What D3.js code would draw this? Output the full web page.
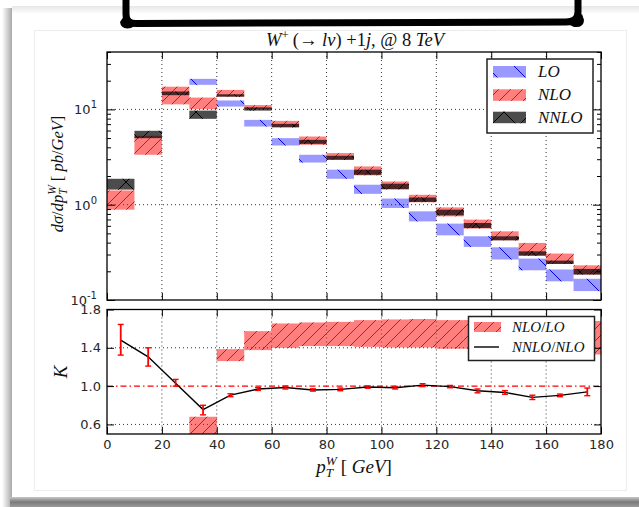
<!DOCTYPE html>
<html>
<head>
<meta charset="utf-8">
<script src="https://cdn.jsdelivr.net/npm/d3@7"></script>
<style>
  html, body { margin: 0; padding: 0; background: #fff; }
  svg { display: block; }
  .tick text { font-family: "DejaVu Sans", sans-serif; font-size: 13px; fill: #262626; }
  .math text { font-family: "Liberation Serif", "DejaVu Serif", serif; fill: #111; }
</style>
</head>
<body>
<svg id="chart" width="639" height="507"></svg>
<script>
// ---- data: 10 GeV bins in p_T^W ----
const binLo = [0, 10, 20, 30, 40, 50, 60, 70, 80, 90, 100, 110, 120, 130, 140, 150, 160, 170];
const binHi = [10, 20, 30, 40, 50, 60, 70, 80, 90, 100, 110, 120, 130, 140, 150, 160, 170, 180];

// scale-variation bands of dσ/dp_T^W [pb/GeV] (null = no LO contribution)
const loMin   = [null, null, null, 18.1, 10.7, 6.61, 4.18, 2.77, 1.87, 1.30, 0.924, 0.668, 0.477, 0.361, 0.266, 0.205, 0.157, 0.124];
const loMax   = [null, null, null, 20.9, 12.4, 7.76, 4.99, 3.34, 2.33, 1.62, 1.16, 0.851, 0.633, 0.466, 0.357, 0.272, 0.209, 0.167];
const nloMin  = [0.887, 3.34, 11.3, 10.05, 13.6, 10.05, 6.45, 4.25, 2.96, 2.03, 1.44, 1.06, 0.754, 0.561, 0.423, 0.292, 0.239, 0.185];
const nloMax  = [1.41, 5.28, 17.3, 13.3, 16.0, 11.1, 7.58, 5.19, 3.48, 2.52, 1.75, 1.27, 0.937, 0.697, 0.525, 0.397, 0.307, 0.231];
const nnloMin = [1.44, 4.99, 14.1, 7.96, 13.6, 9.71, 6.51, 4.35, 2.96, 2.06, 1.46, 1.07, 0.773, 0.570, 0.423, 0.292, 0.239, 0.185];
const nnloMax = [1.87, 5.96, 15.4, 9.71, 14.4, 10.5, 7.05, 4.79, 3.26, 2.33, 1.66, 1.19, 0.886, 0.643, 0.466, 0.324, 0.259, 0.212];

// K-factor band NLO/LO
const kMin = [null, null, null, 0.42, 1.261, 1.376, 1.40, 1.418, 1.418, 1.41, 1.404, 1.404, 1.39, 1.39, 1.38, 1.36, 1.35, 1.33];
const kMax = [null, null, null, 0.68, 1.386, 1.574, 1.654, 1.665, 1.671, 1.689, 1.696, 1.70, 1.689, 1.69, 1.68, 1.66, 1.66, 1.68];

// NNLO/NLO ratio at bin centres with uncertainty
const ratioX   = [5, 15, 25, 35, 45, 55, 65, 75, 85, 95, 105, 115, 125, 135, 145, 155, 165, 175];
const ratioVal = [1.48, 1.306, 1.03, 0.755, 0.906, 0.97, 0.985, 0.96, 0.966, 0.99, 0.983, 1.01, 0.995, 0.951, 0.934, 0.882, 0.903, 0.94];
const ratioLo  = [1.324, 1.209, 1.0, 0.70, 0.89, 0.955, 0.97, 0.948, 0.952, 0.978, 0.97, 0.995, 0.983, 0.93, 0.915, 0.86, 0.89, 0.90];
const ratioHi  = [1.644, 1.40, 1.07, 0.80, 0.92, 0.985, 1.0, 0.972, 0.98, 1.002, 0.996, 1.025, 1.007, 0.97, 0.953, 0.905, 0.917, 0.98];

// axis ticks
const xTicks = [0, 20, 40, 60, 80, 100, 120, 140, 160, 180];
const yTopMajor = [0.1, 1, 10];
const yTopExp = ["-1", "0", "1"];
const kTicks = [0.6, 1.0, 1.4, 1.8];

// ---- layout ----
const svg = d3.select("#chart");
const left = 107, right = 601;
const topY0 = 52, topY1 = 300;
const botY0 = 309.5, botY1 = 434;

const x = d3.scaleLinear().domain([0, 180]).range([left, right]);
const y = d3.scaleLog().domain([0.1, 40]).range([topY1, topY0]);
const yk = d3.scaleLinear().domain([0.5, 1.8]).range([botY1, botY0]);

const defs = svg.append("defs");

// page frame: shadows and card
const gl = defs.append("linearGradient").attr("id", "shadeL").attr("x1", 0).attr("x2", 1).attr("y1", 0).attr("y2", 0);
gl.append("stop").attr("offset", 0).attr("stop-color", "#fff");
gl.append("stop").attr("offset", 1).attr("stop-color", "#a9a9a9");
const gb = defs.append("linearGradient").attr("id", "shadeB").attr("x1", 0).attr("x2", 0).attr("y1", 0).attr("y2", 1);
gb.append("stop").attr("offset", 0).attr("stop-color", "#c8c8c8");
gb.append("stop").attr("offset", 0.5).attr("stop-color", "#7a7a7a");
gb.append("stop").attr("offset", 1).attr("stop-color", "#9a9a9a");
const gt = defs.append("linearGradient").attr("id", "shadeT").attr("x1", 0).attr("x2", 0).attr("y1", 0).attr("y2", 1);
gt.append("stop").attr("offset", 0).attr("stop-color", "#e6e6e6");
gt.append("stop").attr("offset", 1).attr("stop-color", "#fff");

svg.append("rect").attr("width", 639).attr("height", 507).attr("fill", "#fff");
svg.append("rect").attr("x", 2).attr("y", 8).attr("width", 10).attr("height", 499).attr("fill", "url(#shadeL)");
svg.append("rect").attr("x", 12).attr("y", 6).attr("width", 627).attr("height", 8).attr("fill", "url(#shadeT)");
svg.append("rect").attr("x", 10).attr("y", 497).attr("width", 629).attr("height", 10).attr("fill", "url(#shadeB)");
svg.append("rect").attr("x", 34.5).attr("y", 30.5).attr("width", 592).attr("height", 460)
  .attr("fill", "#fff").attr("stroke", "#ececec").attr("stroke-width", 1);

// banner bracket across the top
svg.append("path")
  .attr("d", "M126,-6 L126,14 Q126,24 137,23.5 L566,22 Q578,22 578,12 L578,-6")
  .attr("fill", "none").attr("stroke", "#000").attr("stroke-width", 7).attr("stroke-linejoin", "round");
svg.append("path")
  .attr("d", "M120,22 Q121,30 131,28 L138,24 L124,16 Z M584,20 Q584,28 574,27 L568,24 L582,14 Z").attr("fill", "#000");

// hatch patterns
function hatch(id, size, color, width, dirs) {
  const p = defs.append("pattern").attr("id", id).attr("patternUnits", "userSpaceOnUse")
    .attr("width", size).attr("height", size);
  dirs.forEach(d => {
    const seg = d === "/"
      ? `M0,${size} L${size},0 M${-size / 2},${size / 2} L${size / 2},${-size / 2} M${size / 2},${size * 1.5} L${size * 1.5},${size / 2}`
      : `M0,0 L${size},${size} M${-size / 2},${size / 2} L${size / 2},${size * 1.5} M${size / 2},${-size / 2} L${size * 1.5},${size / 2}`;
    p.append("path").attr("d", seg).attr("stroke", color).attr("stroke-width", width).attr("fill", "none");
  });
}
hatch("hLO", 28, "#0000ee", 1, ["\\"]);
hatch("hNLO", 12, "#ff0000", 1, ["/"]);
hatch("hNNLO", 28, "#000", 1, ["/", "\\"]);

const series = [
  { lo: loMin, hi: loMax, fill: "rgba(0,0,255,0.4)", hatch: "url(#hLO)" },
  { lo: nloMin, hi: nloMax, fill: "rgba(255,0,0,0.5)", hatch: "url(#hNLO)" },
  { lo: nnloMin, hi: nnloMax, fill: "rgba(0,0,0,0.7)", hatch: "url(#hNNLO)" }
];

// ---- upper panel ----
const upper = svg.append("g");
upper.append("defs").append("clipPath").attr("id", "clipTop")
  .append("rect").attr("x", left).attr("y", topY0).attr("width", right - left).attr("height", topY1 - topY0);
upper.append("defs").append("clipPath").attr("id", "clipBot")
  .append("rect").attr("x", left).attr("y", botY0).attr("width", right - left).attr("height", botY1 - botY0);

const dotted = "1,3";
const gridTop = upper.append("g").attr("stroke", "#000").attr("stroke-width", 0.8).attr("stroke-dasharray", dotted);
xTicks.slice(1, -1).forEach(v => gridTop.append("line").attr("x1", x(v)).attr("x2", x(v)).attr("y1", topY0).attr("y2", topY1));
[1, 10].forEach(v => gridTop.append("line").attr("x1", left).attr("x2", right).attr("y1", y(v)).attr("y2", y(v)));

const bandsTop = upper.append("g").attr("clip-path", "url(#clipTop)");
series.forEach(s => {
  const idx = binLo.map((_, i) => i).filter(i => s.lo[i] != null);
  ["fill", "hatch"].forEach(k => {
    bandsTop.selectAll(null).data(idx).join("rect")
      .attr("x", i => x(binLo[i])).attr("width", i => x(binHi[i]) - x(binLo[i]))
      .attr("y", i => y(s.hi[i])).attr("height", i => y(s.lo[i]) - y(s.hi[i]))
      .attr("fill", s[k]);
  });
});

// axes of upper panel
const minorLog = y.ticks().filter(v => !yTopMajor.includes(v));
function inside(axis, size) { return axis.tickSize(-size).tickPadding(6); }
upper.append("g").attr("transform", `translate(${left},0)`)
  .call(inside(d3.axisLeft(y).tickValues(minorLog).tickFormat(""), 4)).call(g => g.select(".domain").remove());
upper.append("g").attr("transform", `translate(${right},0)`)
  .call(inside(d3.axisRight(y).tickValues(minorLog).tickFormat(""), 4)).call(g => g.select(".domain").remove());
upper.append("g").attr("transform", `translate(${left},0)`)
  .call(inside(d3.axisLeft(y).tickValues(yTopMajor).tickFormat(""), 8)).call(g => g.select(".domain").remove());
upper.append("g").attr("transform", `translate(${right},0)`)
  .call(inside(d3.axisRight(y).tickValues(yTopMajor).tickFormat(""), 8)).call(g => g.select(".domain").remove());
upper.append("g").attr("transform", `translate(0,${topY1})`)
  .call(inside(d3.axisBottom(x).tickValues(xTicks).tickFormat(""), 7)).call(g => g.select(".domain").remove());
upper.append("g").attr("transform", `translate(0,${topY0})`)
  .call(inside(d3.axisTop(x).tickValues(xTicks).tickFormat(""), 7)).call(g => g.select(".domain").remove());
upper.append("rect").attr("x", left).attr("y", topY0).attr("width", right - left).attr("height", topY1 - topY0)
  .attr("fill", "none").attr("stroke", "#000").attr("stroke-width", 1.3);

// log tick labels 10^n
const expLabels = svg.append("g").attr("font-family", "DejaVu Sans, sans-serif").attr("fill", "#262626");
yTopMajor.forEach((v, i) => {
  const t = expLabels.append("text").attr("x", 97).attr("y", y(v) + 5).attr("text-anchor", "end");
  t.append("tspan").attr("font-size", 13).text("10");
  t.append("tspan").attr("font-size", 10).attr("dy", -6).text(yTopExp[i]);
});

// ---- lower panel ----
const lower = svg.append("g");
const gridBot = lower.append("g").attr("stroke", "#000").attr("stroke-width", 0.8).attr("stroke-dasharray", dotted);
xTicks.slice(1, -1).forEach(v => gridBot.append("line").attr("x1", x(v)).attr("x2", x(v)).attr("y1", botY0).attr("y2", botY1));
[0.6, 1.4].forEach(v => gridBot.append("line").attr("x1", left).attr("x2", right).attr("y1", yk(v)).attr("y2", yk(v)));

const kIdx = binLo.map((_, i) => i).filter(i => kMin[i] != null);
const kBands = lower.append("g").attr("clip-path", "url(#clipBot)");
["rgba(255,0,0,0.5)", "url(#hNLO)"].forEach(f => {
  kBands.selectAll(null).data(kIdx).join("rect")
    .attr("x", i => x(binLo[i])).attr("width", i => x(binHi[i]) - x(binLo[i]))
    .attr("y", i => yk(kMax[i])).attr("height", i => yk(kMin[i]) - yk(kMax[i]))
    .attr("fill", f);
});

lower.append("line").attr("x1", left).attr("x2", right).attr("y1", yk(1)).attr("y2", yk(1))
  .attr("stroke", "#ff0000").attr("stroke-width", 1.2).attr("stroke-dasharray", "6,3,1.5,3");

const ratioLine = d3.line().x((d, i) => x(ratioX[i])).y(d => yk(d));
lower.append("path").datum(ratioVal).attr("d", ratioLine).attr("fill", "none").attr("stroke", "#000").attr("stroke-width", 1.4);

const eb = lower.append("g").attr("stroke", "#ff0000").attr("stroke-width", 1.8);
ratioX.forEach((v, i) => {
  eb.append("line").attr("x1", x(v)).attr("x2", x(v)).attr("y1", yk(ratioLo[i])).attr("y2", yk(ratioHi[i]));
  [ratioLo[i], ratioHi[i]].forEach(e =>
    eb.append("line").attr("x1", x(v) - 3).attr("x2", x(v) + 3).attr("y1", yk(e)).attr("y2", yk(e)).attr("stroke-width", 1.4));
});

lower.append("g").attr("transform", `translate(${left},0)`)
  .call(inside(d3.axisLeft(yk).tickValues(kTicks).tickFormat(d3.format(".1f")), 7)).call(g => g.select(".domain").remove());
lower.append("g").attr("transform", `translate(${right},0)`)
  .call(inside(d3.axisRight(yk).tickValues(kTicks).tickFormat(""), 7)).call(g => g.select(".domain").remove());
lower.append("g").attr("transform", `translate(0,${botY1})`)
  .call(inside(d3.axisBottom(x).tickValues(xTicks).tickFormat(d3.format("d")), 7)).call(g => g.select(".domain").remove());
lower.append("g").attr("transform", `translate(0,${botY0})`)
  .call(inside(d3.axisTop(x).tickValues(xTicks).tickFormat(""), 7)).call(g => g.select(".domain").remove());
lower.selectAll(".tick line").attr("stroke", "#000");
lower.append("rect").attr("x", left).attr("y", botY0).attr("width", right - left).attr("height", botY1 - botY0)
  .attr("fill", "none").attr("stroke", "#000").attr("stroke-width", 1.3);
lower.selectAll(".tick text").attr("fill", "#262626");

// ---- math-style text ----
function mathText(parent, runs, size) {
  const g = parent.append("g").attr("class", "math");
  let cur = 0, prevStart = 0;
  runs.forEach(r => {
    const start = r.stack ? prevStart : cur;
    const t = g.append("text").attr("x", start).attr("y", r.dy || 0)
      .attr("font-size", size * (r.s || 1))
      .attr("font-style", r.it ? "italic" : "normal")
      .attr("xml:space", "preserve")
      .text(r.t);
    const w = t.node().getComputedTextLength();
    if (r.stack) {
      cur = Math.max(cur, start + w) + (r.gap || 0);
    } else {
      prevStart = start;
      cur = start + w + (r.gap || 0);
    }
  });
  return { g, width: cur };
}

// title
const title = mathText(svg, [
  { t: "W", it: true },
  { t: "+", s: 0.7, dy: -7, gap: 4 },
  { t: "(→ " },
  { t: "lν", it: true },
  { t: ") +1" },
  { t: "j", it: true },
  { t: ", @ 8 " },
  { t: "TeV", it: true }
], 18.5);
title.g.attr("transform", `translate(${355 - title.width / 2},46)`);

// x label
const xl = mathText(svg, [
  { t: "p", it: true },
  { t: "T", it: true, s: 0.7, dy: 4 },
  { t: "W", it: true, s: 0.7, dy: -8, stack: true, gap: 4 },
  { t: "[ " },
  { t: "GeV", it: true },
  { t: "]" }
], 19);
xl.g.attr("transform", `translate(${354 - xl.width / 2},473)`);

// y label of upper panel
const yl = mathText(svg, [
  { t: "dσ", it: true },
  { t: "/" },
  { t: "dp", it: true },
  { t: "T", it: true, s: 0.7, dy: 4 },
  { t: "W", it: true, s: 0.7, dy: -7, stack: true, gap: 4 },
  { t: "[ " },
  { t: "pb", it: true },
  { t: "/" },
  { t: "GeV", it: true },
  { t: "]" }
], 16.5);
yl.g.attr("transform", `translate(63,${174 + yl.width / 2}) rotate(-90)`);

// y label of lower panel
const kl = mathText(svg, [{ t: "K", it: true }], 19);
kl.g.attr("transform", `translate(67,${372 + kl.width / 2}) rotate(-90)`);

// ---- legends ----
const leg1 = svg.append("g");
leg1.append("rect").attr("x", 487).attr("y", 59).attr("width", 106).attr("height", 74)
  .attr("fill", "#fff").attr("stroke", "#222").attr("stroke-width", 1.5);
const legNames = ["LO", "NLO", "NNLO"];
const legY = [66, 89.3, 111.7];
series.forEach((s, i) => {
  ["fill", "hatch"].forEach(k =>
    leg1.append("rect").attr("x", 493).attr("y", legY[i]).attr("width", 33).attr("height", 11.5).attr("fill", s[k]));
  const t = mathText(leg1, [{ t: legNames[i], it: true }], 17);
  t.g.attr("transform", `translate(538,${legY[i] + 11})`);
});

const leg2 = svg.append("g");
leg2.append("rect").attr("x", 468.5).attr("y", 316.5).attr("width", 126).attr("height", 44)
  .attr("fill", "#fff").attr("stroke", "#222").attr("stroke-width", 1.5);
["rgba(255,0,0,0.5)", "url(#hNLO)"].forEach(f =>
  leg2.append("rect").attr("x", 474).attr("y", 322).attr("width", 27).attr("height", 10).attr("fill", f));
leg2.append("line").attr("x1", 474).attr("x2", 499).attr("y1", 347).attr("y2", 347).attr("stroke", "#000").attr("stroke-width", 1.4);
const l2a = mathText(leg2, [{ t: "NLO", it: true }, { t: "/" }, { t: "LO", it: true }], 15);
l2a.g.attr("transform", `translate(512,332)`);
const l2b = mathText(leg2, [{ t: "NNLO", it: true }, { t: "/" }, { t: "NLO", it: true }], 15);
l2b.g.attr("transform", `translate(512,352)`);
</script>
</body>
</html>
